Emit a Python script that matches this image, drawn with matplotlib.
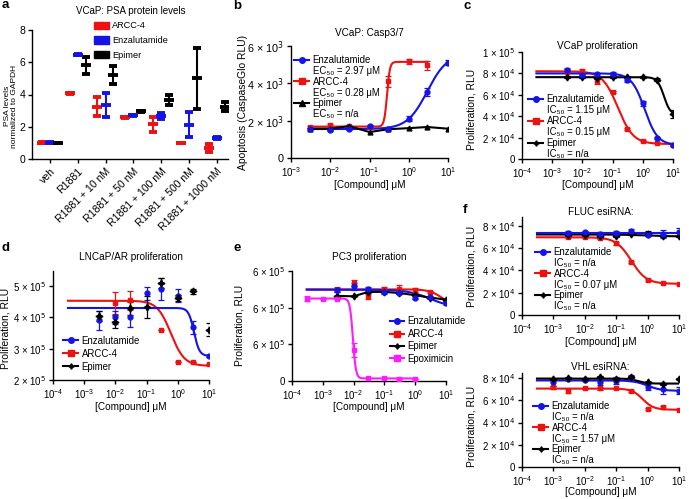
import numpy as np
import matplotlib
matplotlib.use('Agg')
import matplotlib.pyplot as plt
from matplotlib.lines import Line2D
from matplotlib.patches import Patch
from matplotlib.ticker import LogLocator, NullLocator, FixedLocator, FixedFormatter

plt.rcParams['font.family'] = ['Liberation Sans', 'DejaVu Sans']
plt.rcParams['axes.linewidth'] = 1.0

W, H = 689, 499
RED = '#ee1111'
BLUE = '#1414e6'
BLACK = 'black'
MAG = '#ff1aff'
STAR = (4, 1, 0)

# ---- a: PSA protein levels
a_groups = ['veh', 'R1881', 'R1881 + 10 nM', 'R1881 + 50 nM', 'R1881 + 100 nM',
            'R1881 + 500 nM', 'R1881 + 1000 nM']
a_arcc = [1.0, 4.07, 3.25, 2.6, 2.15, 1.0, 0.7]
a_arcc_err = [0.03, 0.02, 0.6, 0.03, 0.45, 0.02, 0.25]
a_enz = [1.0, 6.47, 3.35, 2.7, 2.68, 2.12, 1.3]
a_enz_err = [0.03, 0.05, 0.75, 0.02, 0.18, 0.78, 0.05]
a_epi = [1.0, 5.8, 5.2, 2.95, 3.65, 5.0, 3.25]
a_epi_err = [0.02, 0.5, 0.55, 0.02, 0.3, 1.9, 0.3]

# ---- b: VCaP Casp3/7
b_x = [0.003, 0.01, 0.03, 0.1, 0.3, 1, 3, 10]
b_enz = [1570, 1520, 1540, 1710, 1540, 2110, 3540, 5110]
b_enz_err = [60, 40, 40, 50, 40, 120, 200, 150]
b_arcc_x = [0.003, 0.01, 0.03, 0.1, 0.3, 1, 3]
b_arcc = [1660, 1750, 1700, 1660, 4100, 5180, 4970]
b_arcc_err = [60, 60, 50, 50, 300, 150, 250]
b_epi = [1570, 1570, 1710, 1390, 1540, 1600, 1660, 1570]
b_enz_fit = [1550, 5600, 2.97, 1.7]     # low, high, EC50, hill
b_arcc_fit = [1680, 5150, 0.28, 12]

# ---- c: VCaP proliferation
c_x = [0.003, 0.01, 0.03, 0.1, 0.3, 1, 3, 10]
c_enz = [82.8e3, 78.8e3, 79e3, 79.7e3, 74e3, 52e3, 19.7e3, 13e3]
c_enz_err = [1.5e3, 1e3, 1e3, 1.5e3, 2e3, 2e3, 1e3, 1e3]
c_arcc = [81e3, 81.8e3, 72.8e3, 62.5e3, 28e3, 17e3, 15e3, 13e3]
c_arcc_err = [4e3, 2e3, 3e3, 1e3, 1e3, 0.5e3, 0.5e3, 0.5e3]
c_epi = [76.5e3, 76.5e3, 76e3, 76.5e3, 76.5e3, 76.5e3, 74e3, 42e3]
c_epi_err = [1e3, 1e3, 1e3, 1e3, 1e3, 1e3, 1.5e3, 4e3]
c_enz_fit = [80e3, 13e3, 1.15, 2]
c_arcc_fit = [82e3, 14e3, 0.15, 1.7]
c_epi_fit = [76.5e3, 41e3, 5, 4]

# ---- d: LNCaP/AR proliferation
d_x = [0.003, 0.01, 0.03, 0.1, 0.3, 1, 3, 10]
d_enz = [3.91e5, 4.0e5, 4.0e5, 4.77e5, 4.9e5, 4.69e5, 3.68e5, 2.76e5]
d_enz_err = [0.3e5, 0.2e5, 0.3e5, 0.2e5, 0.35e5, 0.2e5, 0.2e5, 0.03e5]
d_arcc_x = [0.01, 0.03, 0.3, 1, 3, 10]
d_arcc = [4.45e5, 4.54e5, 3.59e5, 2.57e5, 2.57e5, 2.5e5]
d_arcc_err = [0.35e5, 0.3e5, 0, 0, 0, 0]
d_epi = [4.04e5, 3.86e5, 4.29e5, 4.34e5, 5.1e5, 4.61e5, 4.83e5, 3.61e5]
d_epi_err = [0.15e5, 0.2e5, 0.2e5, 0.35e5, 0.15e5, 0.1e5, 0.08e5, 0.2e5]
d_enz_fit = [4.3e5, 2.77e5, 3.3, 5]
d_arcc_fit = [4.53e5, 2.45e5, 0.6, 2]

# ---- e: PC3 proliferation
e_x = [0.003, 0.01, 0.03, 0.1, 0.3, 1, 3, 10]
e_enz = [4.95e5, 5.17e5, 5.04e5, 4.86e5, 4.82e5, 4.55e5, 4.6e5, 4.26e5]
e_enz_err = [0.1e5, 0.2e5, 0.1e5, 0.1e5, 0.1e5, 0.1e5, 0.05e5, 0.1e5]
e_arcc = [4.98e5, 5.35e5, 4.62e5, 5.04e5, 5.04e5, 4.95e5, 4.86e5, 4.37e5]
e_arcc_err = [0.15e5, 0.15e5, 0.15e5, 0.1e5, 0.2e5, 0.1e5, 0.05e5, 0.05e5]
e_epi = [4.64e5, 4.62e5, 4.86e5, 4.86e5, 4.8e5, 4.68e5, 4.55e5, 4.44e5]
e_epox_x = [3e-4, 1e-3, 3e-3, 0.01, 0.03, 0.1, 0.3, 1]
e_epox = [4.5e5, 4.5e5, 4.5e5, 1.69e5, 0.145e5, 0.14e5, 0.13e5, 0.13e5]
e_epox_err = [0.15e5, 0, 0, 0.4e5, 0, 0, 0, 0]
e_enz_fit = [4.98e5, 4.0e5, 3, 1.2]
e_arcc_fit = [5.0e5, 4.0e5, 8, 2]
e_epox_fit = [4.5e5, 0.14e5, 0.0095, 9]
e_yticks = [0, 2e5, 4e5, 6e5]
e_yticklabels = ['0', '6 × 10$^5$', '6 × 10$^5$', '6 × 10$^5$']

# ---- f: esiRNA
f1_x = [0.003, 0.01, 0.03, 0.1, 0.3, 1, 3, 10]
f1_enz = [74e3, 74.5e3, 73e3, 74e3, 75e3, 72e3, 72.5e3, 74.5e3]
f1_enz_err = [1e3, 1e3, 1.5e3, 1e3, 2e3, 1.5e3, 3.5e3, 4e3]
f1_arcc = [69.7e3, 69.7e3, 69e3, 64.3e3, 47.8e3, 31.4e3, 29e3, 27.8e3]
f1_arcc_err = [1e3, 1e3, 1e3, 1e3, 1e3, 0.5e3, 0.5e3, 0.5e3]
f1_epi = [72e3, 72e3, 70.5e3, 71e3, 72.5e3, 73e3, 71e3, 70.5e3]
f1_epi_err = [0.5e3, 0.5e3, 1.5e3, 1e3, 1e3, 2.5e3, 1e3, 0.5e3]
f1_enz_fit = [73.8e3, 73.8e3, 1, 1]
f1_arcc_fit = [69.8e3, 28e3, 0.3, 1.8]
f1_epi_fit = [72.3e3, 70.5e3, 1, 1]

f2_x = [0.001, 0.003, 0.01, 0.03, 0.1, 0.3, 1, 3, 10]
f2_enz = [76e3, 79.1e3, 78.5e3, 76.4e3, 77.6e3, 80e3, 72e3, 70e3, 68.5e3]
f2_enz_err = [3e3, 1e3, 1e3, 2.5e3, 3e3, 2.5e3, 3e3, 4e3, 3e3]
f2_arcc = [71.5e3, 68.5e3, 70.6e3, 70.6e3, 70.6e3, 68.5e3, 52e3, 53.5e3, 51.4e3]
f2_arcc_err = [1.5e3, 2e3, 0.5e3, 1e3, 0.5e3, 1e3, 1e3, 1e3, 0.5e3]
f2_epi = [79e3, 80e3, 79.5e3, 81e3, 79.5e3, 81e3, 76e3, 75e3, 79.5e3]
f2_epi_err = [0.5e3, 0.5e3, 0.5e3, 0.5e3, 0.5e3, 1e3, 0.5e3, 0.5e3, 0.5e3]
f2_enz_fit = [77.8e3, 68.5e3, 1.0, 2]
f2_arcc_fit = [70.5e3, 51.5e3, 0.7, 2.5]
f2_epi_fit = [79.5e3, 75e3, 0.5, 3]


fig = plt.figure(figsize=(W / 100, H / 100), dpi=100)


def px_axes(l, t, r, b):
    return fig.add_axes([l / W, 1 - b / H, (r - l) / W, (b - t) / H])


def base_style(ax):
    for s in ('top', 'right'):
        ax.spines[s].set_visible(False)
    ax.tick_params(direction='out', length=3, width=1, labelsize=7, pad=2)


def dose_axes(ax, xmin):
    base_style(ax)
    ax.set_xscale('log')
    ax.set_xlim(xmin, 10)
    ax.xaxis.set_major_locator(LogLocator(base=10, numticks=12))
    ax.xaxis.set_minor_locator(NullLocator())


def sci_ticks(ax, vals, exp):
    labels = []
    for v in vals:
        m = v / 10 ** exp
        labels.append('0' if v == 0 else '%d × 10$^{%d}$' % (round(m), exp))
    ax.yaxis.set_major_locator(FixedLocator(vals))
    ax.yaxis.set_major_formatter(FixedFormatter(labels))


def fourpl(x, p):
    lo, hi, x50, h = p
    return hi + (lo - hi) / (1 + (x / x50) ** h)


def fit_line(ax, p, color, x0, x1):
    xs = np.logspace(np.log10(x0), np.log10(x1), 300)
    ax.plot(xs, fourpl(xs, p), color=color, lw=1.5, zorder=2)


def pts(ax, x, y, err, color, marker, ms=3.5, line=False):
    ax.errorbar(x, y, yerr=err, marker=marker, color=color, ms=ms, capsize=2,
                elinewidth=0.9, capthick=0.9, ls='-' if line else 'none',
                lw=1.5, zorder=3)


def labels(ax, xl_top, yl_right, yl_center=None, ylabel='Proliferation, RLU'):
    l, b, w, h = ax.get_position().bounds
    ax.set_xlabel('[Compound] μM', fontsize=7.2)
    ax.xaxis.set_label_coords((l + w / 2), 1 - xl_top / H, transform=fig.transFigure)
    ax.set_ylabel(ylabel, fontsize=7.4)
    yc = (b + h / 2) if yl_center is None else 1 - yl_center / H
    ax.yaxis.set_label_coords(yl_right / W, yc, transform=fig.transFigure)


def legend(ax, entries, x_px, y_px, spacing=0.09, hl=1.6):
    handles, texts = [], []
    for color, marker, name, sub in entries:
        handles.append(Line2D([], [], color=color, marker=marker, ms=4, lw=1.5))
        texts.append(name)
        if sub is not None:
            handles.append(Line2D([], [], ls='none'))
            texts.append(sub)
    ax.legend(handles, texts, loc='upper left', bbox_to_anchor=(x_px / W, 1 - y_px / H),
              bbox_transform=fig.transFigure, frameon=False, fontsize=6.9,
              handlelength=hl, handletextpad=0.35, labelspacing=spacing,
              borderpad=0, borderaxespad=0)


def title(ax, text, pad):
    ax.set_title(text, fontsize=7.2, pad=pad)


# ---------------- panel a
ax = px_axes(32, 30, 228, 159)
base_style(ax)
xg = np.arange(len(a_groups))
for off, vals, errs, col in [(-0.3, a_arcc, a_arcc_err, RED),
                             (0.0, a_enz, a_enz_err, BLUE),
                             (0.28, a_epi, a_epi_err, BLACK)]:
    ax.errorbar(xg + off, vals, yerr=errs, marker='_', color=col, ms=7.5, mew=2.8,
                capsize=3.2, elinewidth=1.5, capthick=1.5, ls='none')
ax.set_xlim(-0.65, 6.4)
ax.set_ylim(0, 8)
ax.set_yticks([0, 2, 4, 6, 8])
ax.tick_params(axis='y', labelsize=7.5)
ax.set_xticks(xg)
ax.set_xticklabels(a_groups, rotation=45, ha='right', rotation_mode='anchor', fontsize=7.6)
ax.set_ylabel('PSA levels\nnormalized to GAPDH', fontsize=6, linespacing=1.15)
ax.yaxis.set_label_coords(18.5 / W, 1 - 106 / H, transform=fig.transFigure)
ax.legend([Patch(color=RED), Patch(color=BLUE), Patch(color=BLACK)],
          ['ARCC-4', 'Enzalutamide', 'Epimer'], title='VCaP: PSA protein levels',
          title_fontsize=7, fontsize=6.6, loc='upper center',
          bbox_to_anchor=(131 / W, 1 - 6 / H), bbox_transform=fig.transFigure,
          frameon=False, handlelength=1.6, handleheight=0.9, labelspacing=0.6,
          handletextpad=0.4, borderpad=0, borderaxespad=0)

# ---------------- panel b
ax = px_axes(291, 46, 448, 158)
dose_axes(ax, 1e-3)
ax.set_ylim(0, 6000)
sci_ticks(ax, [0, 2000, 4000, 6000], 3)
ax.tick_params(axis='y', labelsize=7.8)
fit_line(ax, b_arcc_fit, RED, 0.003, 3)
fit_line(ax, b_enz_fit, BLUE, 0.003, 10)
pts(ax, b_arcc_x, b_arcc, b_arcc_err, RED, 's')
pts(ax, b_x, b_epi, None, BLACK, '^', line=True)
pts(ax, b_x, b_enz, b_enz_err, BLUE, 'o')
title(ax, 'VCaP: Casp3/7', 7)
labels(ax, 180, 248.5, ylabel='Apoptosis (CaspaseGlo RLU)')
legend(ax, [(BLUE, 'o', 'Enzalutamide', 'EC₅₀ = 2.97 μM'),
            (RED, 's', 'ARCC-4', 'EC₅₀ = 0.28 μM'),
            (BLACK, '^', 'Epimer', 'EC₅₀ = n/a')], 294, 55)

# ---------------- panel c
ax = px_axes(522, 52, 673, 159)
dose_axes(ax, 1e-4)
ax.set_ylim(0, 1e5)
sci_ticks(ax, [0, 2e4, 4e4, 6e4, 8e4, 1e5], 4)
ax.yaxis.get_major_formatter().seq[-1] = '1 × 10$^{5}$'
fit_line(ax, c_arcc_fit, RED, 3e-4, 10)
fit_line(ax, c_epi_fit, BLACK, 3e-4, 10)
fit_line(ax, c_enz_fit, BLUE, 3e-4, 10)
pts(ax, c_x, c_arcc, c_arcc_err, RED, 's')
pts(ax, c_x, c_epi, c_epi_err, BLACK, STAR, ms=5)
pts(ax, c_x, c_enz, c_enz_err, BLUE, 'o')
title(ax, 'VCaP proliferation', 2.5)
labels(ax, 180.5, 477, 109)
legend(ax, [(BLUE, 'o', 'Enzalutamide', 'IC₅₀ = 1.15 μM'),
            (RED, 's', 'ARCC-4', 'IC₅₀ = 0.15 μM'),
            (BLACK, STAR, 'Epimer', 'IC₅₀ = n/a')], 528, 94.5)

# ---------------- panel d
ax = px_axes(53, 271, 209, 380)
dose_axes(ax, 1e-4)
ax.set_ylim(2e5, 5.48e5)
sci_ticks(ax, [2e5, 3e5, 4e5, 5e5], 5)
fit_line(ax, d_arcc_fit, RED, 3e-4, 10)
fit_line(ax, d_enz_fit, BLUE, 3e-4, 10)
pts(ax, d_arcc_x, d_arcc, d_arcc_err, RED, 's')
pts(ax, d_x, d_enz, d_enz_err, BLUE, 'o')
pts(ax, d_x, d_epi, d_epi_err, BLACK, STAR, ms=5)
title(ax, 'LNCaP/AR proliferation', 8)
labels(ax, 402.5, 10.5, 328)
legend(ax, [(BLUE, 'o', 'Enzalutamide', None),
            (RED, 's', 'ARCC-4', None),
            (BLACK, STAR, 'Epimer', None)], 63, 335.5, spacing=0.32)

# ---------------- panel e
ax = px_axes(292, 271, 446, 381)
dose_axes(ax, 1e-4)
ax.set_ylim(0, 6e5)
ax.yaxis.set_major_locator(FixedLocator(e_yticks))
ax.yaxis.set_major_formatter(FixedFormatter(e_yticklabels))
fit_line(ax, e_arcc_fit, RED, 3e-4, 10)
fit_line(ax, e_enz_fit, BLUE, 3e-4, 10)
fit_line(ax, e_epox_fit, MAG, 3e-4, 1)
pts(ax, e_x, e_arcc, e_arcc_err, RED, 's')
pts(ax, e_x, e_epi, None, BLACK, STAR, ms=5, line=True)
pts(ax, e_x, e_enz, e_enz_err, BLUE, 'o')
pts(ax, e_epox_x, e_epox, e_epox_err, MAG, 's')
title(ax, 'PC3 proliferation', 8)
labels(ax, 402.5, 244, 325)
legend(ax, [(BLUE, 'o', 'Enzalutamide', None),
            (RED, 's', 'ARCC-4', None),
            (BLACK, STAR, 'Epimer', None),
            (MAG, 's', 'Epoximicin', None)], 390, 316.5, spacing=0.25, hl=1.5)

# ---------------- panel f (top)
ax = px_axes(522, 217, 679, 315)
dose_axes(ax, 1e-4)
ax.set_ylim(0, 88000)
sci_ticks(ax, [0, 2e4, 4e4, 6e4, 8e4], 4)
fit_line(ax, f1_arcc_fit, RED, 3e-4, 10)
fit_line(ax, f1_epi_fit, BLACK, 3e-4, 10)
fit_line(ax, f1_enz_fit, BLUE, 3e-4, 10)
pts(ax, f1_x, f1_arcc, f1_arcc_err, RED, 's')
pts(ax, f1_x, f1_epi, f1_epi_err, BLACK, STAR, ms=5)
pts(ax, f1_x, f1_enz, f1_enz_err, BLUE, 'o')
title(ax, 'FLUC esiRNA:', -1)
labels(ax, 337, 476)
legend(ax, [(BLUE, 'o', 'Enzalutamide', 'IC₅₀ = n/a'),
            (RED, 's', 'ARCC-4', 'IC₅₀ = 0.07 μM'),
            (BLACK, STAR, 'Epimer', 'IC₅₀ = n/a')], 535, 247)

# ---------------- panel f (bottom)
ax = px_axes(522, 373, 679, 467)
dose_axes(ax, 1e-4)
ax.set_ylim(0, 84500)
sci_ticks(ax, [0, 2e4, 4e4, 6e4, 8e4], 4)
fit_line(ax, f2_arcc_fit, RED, 3e-4, 10)
fit_line(ax, f2_enz_fit, BLUE, 3e-4, 10)
fit_line(ax, f2_epi_fit, BLACK, 3e-4, 10)
pts(ax, f2_x, f2_arcc, f2_arcc_err, RED, 's')
pts(ax, f2_x, f2_enz, f2_enz_err, BLUE, 'o')
pts(ax, f2_x, f2_epi, f2_epi_err, BLACK, STAR, ms=5)
title(ax, 'VHL esiRNA:', 2.5)
labels(ax, 487, 476, 426)
legend(ax, [(BLUE, 'o', 'Enzalutamide', 'IC₅₀ = n/a'),
            (RED, 's', 'ARCC-4', 'IC₅₀ = 1.57 μM'),
            (BLACK, STAR, 'Epimer', 'IC₅₀ = n/a')], 533, 401)

# panel letters
for letter, x, y in [('a', 2, 5), ('b', 233, 6), ('c', 463, 6),
                     ('d', 2, 248), ('e', 233, 248), ('f', 463, 210)]:
    fig.text(x / W, 1 - y / H, letter, fontsize=9.5, fontweight='bold',
             ha='left', va='center')

fig.savefig('out.png', dpi=100)
